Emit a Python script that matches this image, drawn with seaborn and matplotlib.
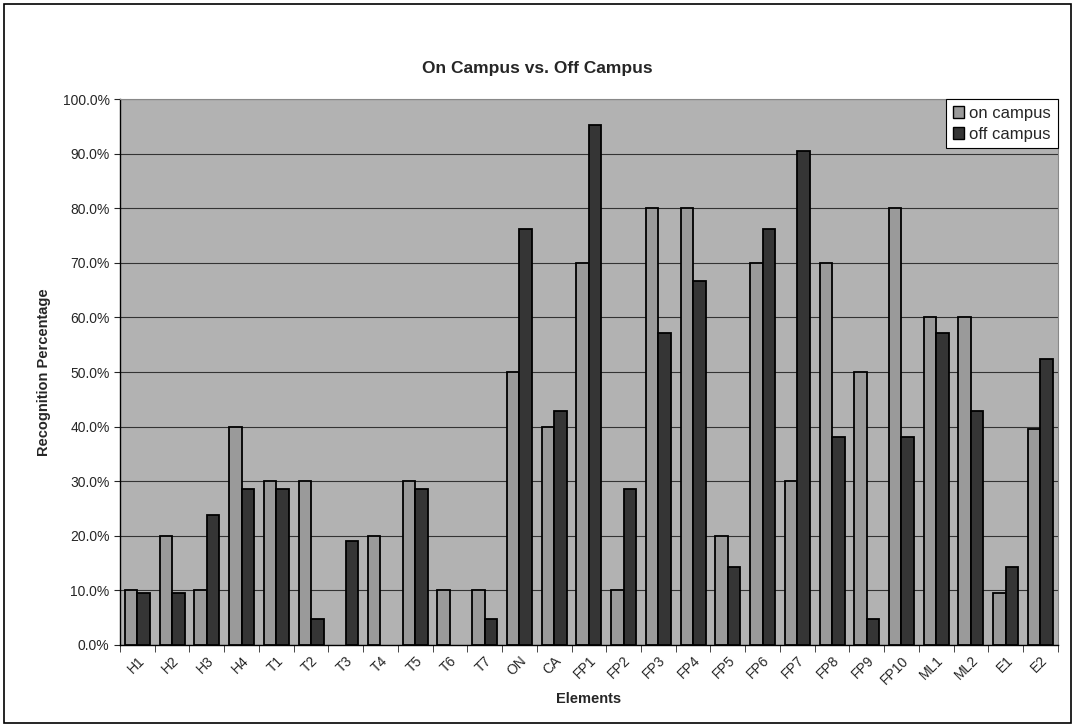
import pandas as pd
import numpy as np
import matplotlib
matplotlib.use("Agg")
import matplotlib.pyplot as plt
import seaborn as sns
from matplotlib.patches import Rectangle
from matplotlib.ticker import PercentFormatter, FixedLocator

elements = ["H1", "H2", "H3", "H4", "T1", "T2", "T3", "T4", "T5", "T6", "T7",
            "ON", "CA", "FP1", "FP2", "FP3", "FP4", "FP5", "FP6", "FP7", "FP8",
            "FP9", "FP10", "ML1", "ML2", "E1", "E2"]
on_campus = [10.0, 20.0, 10.0, 40.0, 30.0, 30.0, 0.0, 20.0, 30.0, 10.0, 10.0,
             50.0, 40.0, 70.0, 10.0, 80.0, 80.0, 20.0, 70.0, 30.0, 70.0,
             50.0, 80.0, 60.0, 60.0, 9.5, 39.5]
off_campus = [9.5, 9.5, 23.8, 28.6, 28.6, 4.8, 19.0, 0.0, 28.6, 0.0, 4.8,
              76.2, 42.9, 95.2, 28.6, 57.1, 66.7, 14.3, 76.2, 90.5, 38.1,
              4.8, 38.1, 57.1, 42.9, 14.3, 52.4]
series = ["on campus", "off campus"]

df = pd.DataFrame({
    "Elements": elements * 2,
    "value": on_campus + off_campus,
    "series": [series[0]] * len(elements) + [series[1]] * len(elements),
})

sns.set_style("white")
plt.rcParams["font.family"] = ["Liberation Sans", "DejaVu Sans"]

fig = plt.figure(figsize=(10.75, 7.27), dpi=100)
ax = fig.add_axes([0.1116, 0.1128, 0.8724, 0.751])
ax.set_facecolor("#b2b2b2")

sns.barplot(data=df, x="Elements", y="value", hue="series",
            palette=["#9a9a9a", "#353535"], saturation=1, width=0.72,
            edgecolor="black", linewidth=1.3, ax=ax, zorder=3)

# empty bars in the original leave no outline
for cont in ax.containers:
    for p in cont:
        if p.get_height() == 0:
            p.set_linewidth(0)

ax.set_ylim(0, 100)
ax.set_xlim(-0.5, len(elements) - 0.5)
ax.set_yticks(np.arange(0, 101, 10))
ax.yaxis.set_major_formatter(PercentFormatter(decimals=1))
ax.yaxis.grid(True, color="#333333", linewidth=0.8)
ax.set_axisbelow(True)

ax.tick_params(axis="x", which="major", length=0, pad=6, labelsize=10)
ax.xaxis.set_minor_locator(FixedLocator(np.arange(-0.5, len(elements), 1)))
ax.tick_params(axis="x", which="minor", length=5, direction="out", bottom=True)
ax.tick_params(axis="y", length=4, direction="out", left=True, labelsize=10)
plt.setp(ax.get_xticklabels(), rotation=45, ha="right", rotation_mode="anchor")

for side in ["top", "right"]:
    ax.spines[side].set_color("#888888")
    ax.spines[side].set_linewidth(0.8)
for side in ["left", "bottom"]:
    ax.spines[side].set_color("black")
    ax.spines[side].set_linewidth(1.0)

ax.set_xlabel("Elements", fontsize=10.5, fontweight="bold", labelpad=4)
ax.set_ylabel("Recognition Percentage", fontsize=10.5, fontweight="bold", labelpad=8)
fig.text(0.5, 0.906, "On Campus vs. Off Campus", ha="center", va="center",
         fontsize=12.5, fontweight="bold")

leg = ax.legend(loc="upper right", borderaxespad=0, fontsize=12, frameon=True,
                fancybox=False, edgecolor="black", framealpha=1,
                handlelength=0.7, handleheight=0.7, handletextpad=0.3,
                borderpad=0.4, labelspacing=0.35)
leg.get_frame().set_linewidth(0.8)
for h in leg.get_patches():
    h.set_edgecolor("black")
    h.set_linewidth(1.0)

fig.patches.append(Rectangle((0.004, 0.006), 0.992, 0.988, transform=fig.transFigure,
                             fill=False, edgecolor="black", linewidth=1.2))

fig.savefig("out.png", dpi=100)
